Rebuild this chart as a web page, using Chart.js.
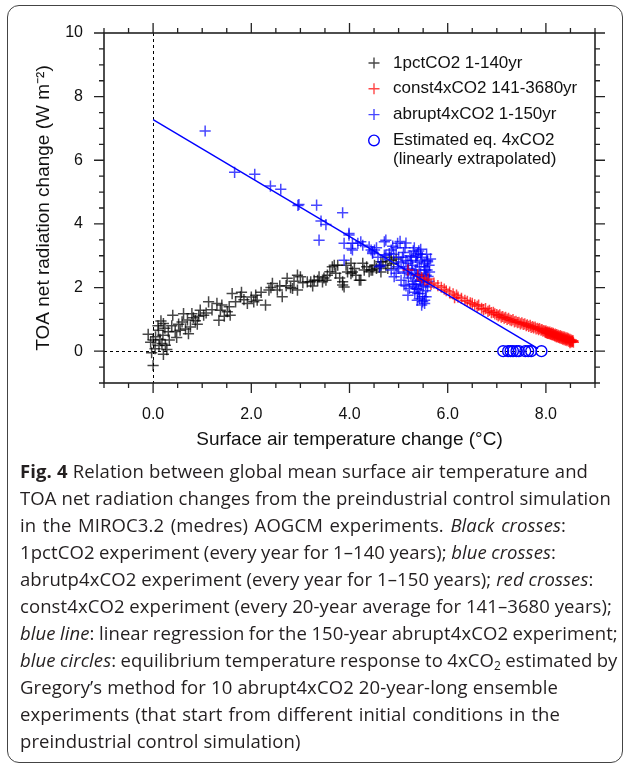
<!DOCTYPE html>
<html>
<head>
<meta charset="utf-8">
<script src="https://cdn.jsdelivr.net/npm/chart.js@4.4.1/dist/chart.umd.min.js"></script>
<style>
  html, body { margin:0; padding:0; background:#fff; }
  body { width:625px; height:765px; position:relative; overflow:hidden; }
  #frame { position:absolute; left:7px; top:5px; width:616px; height:758px; border:1.6px solid #444; border-radius:12px; box-sizing:border-box; }
  #chartBox { position:absolute; left:0; top:0; width:625px; height:460px; }
  #caption { position:absolute; left:20px; top:457px; font-family:'Open Sans', 'Noto Sans', sans-serif; font-size:18.5px; line-height:27px; color:#231f20; }
  #caption .ln { display:inline-block; white-space:nowrap; }
  #caption sub { font-size:12px; vertical-align:-3px; line-height:0; }
</style>
</head>
<body>
<div id="frame"></div>
<div id="chartBox"><canvas id="gregory" width="625" height="460"></canvas></div>
<div id="caption">
  <div><span class="ln"><b>Fig. 4</b> Relation between global mean surface air temperature and</span></div>
  <div><span class="ln">TOA net radiation changes from the preindustrial control simulation</span></div>
  <div><span class="ln">in the MIROC3.2 (medres) AOGCM experiments. <i>Black crosses</i>:</span></div>
  <div><span class="ln">1pctCO2 experiment (every year for 1–140 years); <i>blue crosses</i>:</span></div>
  <div><span class="ln">abrutp4xCO2 experiment (every year for 1–150 years); <i>red crosses</i>:</span></div>
  <div><span class="ln">const4xCO2 experiment (every 20-year average for 141–3680 years);</span></div>
  <div><span class="ln"><i>blue line</i>: linear regression for the 150-year abrupt4xCO2 experiment;</span></div>
  <div><span class="ln"><i>blue circles</i>: equilibrium temperature response to 4xCO<sub>2</sub> estimated by</span></div>
  <div><span class="ln">Gregory’s method for 10 abrupt4xCO2 20-year-long ensemble</span></div>
  <div><span class="ln">experiments (that start from different initial conditions in the</span></div>
  <div><span class="ln">preindustrial control simulation)</span></div>
</div>
<script>
// 1pctCO2, years 1-140 (black crosses)
const pctCO2 = [
  [0.00,-0.45],[-0.03,-0.05],[0.04,0.08],[-0.10,0.53],[0.00,0.35],[0.11,0.66],[0.14,0.37],[0.21,0.87],
  [0.25,0.19],[0.18,0.24],[0.21,-0.10],[0.31,0.61],[0.05,0.45],[0.12,0.18],[0.20,0.50],[0.28,0.05],
  [0.10,0.80],[0.16,0.95],[-0.05,0.28],[0.24,0.72],[0.33,0.35],[0.40,1.13],[0.48,0.43],[0.38,0.80],
  [0.45,0.62],[0.55,0.66],[0.59,0.92],[0.62,1.18],[0.52,0.85],[0.66,0.70],[0.70,0.98],[0.76,0.76],
  [0.79,1.18],[0.72,0.55],[0.86,0.96],[0.82,1.05],[0.90,0.85],[0.96,1.29],[1.03,1.13],[0.93,1.10],
  [1.13,1.55],[1.08,1.20],[1.20,1.30],[1.30,1.50],[1.37,1.29],[1.34,0.97],[1.40,1.45],[1.45,1.10],
  [1.51,1.24],[1.57,1.13],[1.61,1.81],[1.55,1.40],[1.68,1.55],[1.78,1.71],[1.85,1.62],[1.92,1.50],
  [1.80,1.85],[2.00,1.70],[2.09,1.76],[2.12,1.60],[2.05,1.55],[2.20,1.85],[2.29,1.45],[2.36,1.92],
  [2.43,2.13],[2.40,2.00],[2.53,1.92],[2.63,1.71],[2.58,2.05],[2.73,2.29],[2.71,2.06],[2.80,2.00],
  [2.84,1.97],[2.94,1.92],[2.94,2.39],[2.87,2.20],[3.00,2.34],[3.05,2.15],[3.14,2.18],[3.21,2.18],
  [3.28,2.23],[3.25,2.05],[3.35,2.23],[3.38,2.34],[3.45,2.18],[3.52,2.23],[3.48,2.30],[3.55,2.39],
  [3.60,2.50],[3.65,2.65],[3.69,2.70],[3.76,2.70],[3.72,2.45],[3.80,2.30],[3.86,2.18],[3.89,2.02],
  [3.86,2.08],[3.93,2.70],[3.96,2.49],[4.03,2.76],[4.03,2.44],[4.06,2.49],[4.13,2.39],[4.10,2.60],
  [4.20,2.23],[4.23,2.23],[4.27,2.76],[4.30,2.55],[4.35,2.65],[4.40,2.50],[4.44,2.55],[4.47,2.55],
  [4.51,2.70],[4.55,2.60],[4.61,2.65],[4.64,2.49],[4.64,2.81],[4.68,2.81],[4.74,2.70],[4.78,2.60],
  [4.85,2.86],[4.90,2.75],[4.95,2.90],[4.82,2.95]
];

// abrupt4xCO2, years 1-150 (blue crosses)
const abrupt4x = [
  [1.06,6.92],[1.66,5.62],[2.07,5.56],[2.39,5.19],[2.60,5.09],[2.97,4.61],[2.95,4.58],[3.33,4.59],
  [3.86,4.35],[3.42,4.09],[3.52,3.98],[3.38,3.49],[3.99,3.70],[3.89,3.39],[4.06,3.39],[4.23,3.44],
  [4.40,3.28],[4.51,3.18],[4.03,3.23],[4.17,3.39],[4.27,3.33],[4.44,3.18],[4.47,3.07],[3.99,3.65],
  [4.06,3.18],[4.47,3.12],[4.71,3.44],[4.74,3.49],[4.98,3.39],[4.74,3.02],[4.71,3.02],[4.85,3.18],
  [4.81,3.07],[3.89,2.86],[4.61,2.65],[4.64,2.70],[4.85,2.55],[4.98,2.65],[4.91,2.34],[5.05,2.23],
  [5.12,2.49],[5.19,2.76],[5.26,2.97],[5.36,3.02],[5.46,2.86],[5.53,2.65],[5.32,2.44],[5.43,2.23],
  [5.32,2.02],[5.22,1.97],[5.39,1.81],[5.49,1.71],[5.49,1.55],[5.46,2.08],[5.59,2.02],[5.56,2.39],
  [5.59,2.81],[5.19,1.76],[5.11,2.08],[5.36,1.97],[5.43,1.81],[5.53,1.60],[5.53,1.50],[5.56,1.71],
  [5.39,3.07],[5.59,2.86],[5.63,2.49],[5.00,2.95],[5.10,3.10],[5.15,2.85],[5.20,2.60],[5.25,2.40],
  [5.28,2.70],[5.30,2.20],[5.35,2.55],[5.38,2.80],[5.40,2.35],[5.42,2.65],[5.45,2.45],[5.48,2.95],
  [5.50,2.25],[5.52,2.75],[5.55,2.55],[5.58,2.15],[5.60,2.35],[5.62,2.70],[5.65,2.90],[5.20,2.30],
  [5.25,2.85],[5.30,3.15],[5.35,2.10],[5.40,1.95],[5.45,3.05],[5.50,2.05],[5.55,1.90],[5.15,2.05],
  [5.10,2.65],[5.05,2.80],[4.95,2.45],[5.00,2.60],[4.90,3.05],[5.42,1.65],[5.47,1.45],[5.38,1.60],
  [5.33,1.85],[5.28,2.10],[5.18,2.45],[5.23,3.00],[5.13,3.25],[5.08,2.95],[4.95,3.25],[5.58,2.55],
  [5.62,2.20],[5.27,2.55],[5.37,2.40],[5.45,2.20],[5.52,2.40],[5.57,3.05],[5.35,2.95],[5.41,3.15],
  [5.03,3.45],[4.88,3.30],[5.15,3.40],[5.32,3.25],[5.45,3.20],[4.58,2.95],[4.55,3.25]
];

// const4xCO2, 20-year means for years 141-3680 (red crosses)
const const4x = [
  [5.19,2.55],[5.39,2.39],[5.47,2.31],[5.53,2.23],[5.60,2.27],[5.66,2.10],[5.72,2.14],[5.80,2.06],
  [5.87,2.01],[5.93,1.95],[5.97,1.90],[6.04,1.86],[6.11,1.80],[6.14,1.68],[6.18,1.76],[6.21,1.70],
  [6.28,1.66],[6.35,1.60],[6.40,1.57],[6.46,1.52],[6.50,1.50],[6.55,1.46],[6.60,1.41],[6.63,1.45],
  [6.69,1.35],[6.73,1.31],[6.77,1.34],[6.82,1.25],[6.85,1.28],[6.89,1.21],[6.93,1.22],[6.96,1.17],
  [7.00,1.15],[7.03,1.11],[7.06,1.14],[7.09,1.07],[7.12,1.09],[7.15,1.04],[7.18,1.06],[7.21,1.00],
  [7.24,1.03],[7.27,0.98],[7.30,0.96],[7.33,0.99],[7.36,0.92],[7.39,0.94],[7.42,0.90],[7.45,0.91],
  [7.48,0.86],[7.51,0.89],[7.54,0.84],[7.57,0.86],[7.60,0.80],[7.62,0.83],[7.65,0.78],[7.68,0.81],
  [7.70,0.75],[7.73,0.77],[7.75,0.73],[7.78,0.76],[7.80,0.70],[7.83,0.72],[7.85,0.68],[7.87,0.71],
  [7.90,0.66],[7.92,0.68],[7.94,0.63],[7.96,0.65],[7.98,0.61],[8.00,0.64],[8.02,0.59],[8.04,0.61],
  [8.06,0.57],[8.08,0.60],[8.10,0.55],[8.12,0.58],[8.14,0.53],[8.15,0.56],[8.17,0.51],[8.19,0.54],
  [8.20,0.49],[8.22,0.52],[8.24,0.47],[8.25,0.50],[8.27,0.46],[8.29,0.49],[8.30,0.44],[8.32,0.47],
  [8.33,0.42],[8.35,0.45],[8.36,0.40],[8.38,0.44],[8.39,0.39],[8.41,0.42],[8.42,0.37],[8.44,0.41],
  [8.45,0.36],[8.46,0.39],[8.48,0.34],[8.49,0.37],[8.50,0.32],[8.52,0.35],[8.53,0.30],[8.55,0.33],
  [8.56,0.28],[8.47,0.31],[8.43,0.33],[8.40,0.35],[8.37,0.36],[8.34,0.38],[8.31,0.40],[8.28,0.42],
  [8.26,0.43],[8.23,0.45],[8.21,0.46],[8.18,0.48],[8.16,0.50],[8.13,0.51],[8.11,0.53],[8.09,0.54],
  [8.07,0.55],[8.05,0.57],[8.03,0.56],[8.01,0.58],[7.99,0.59],[8.51,0.29],[8.54,0.31],[8.49,0.27]
];

// Gregory-method equilibrium estimates (blue circles)
const eqTemps = [7.13, 7.23, 7.28, 7.33, 7.40, 7.45, 7.58, 7.64, 7.70, 7.91];
const eqFlux  = [0, 0, 0, 0, 0, 0, 0, 0, 0, 0];

// regression line for abrupt4xCO2
const fitX = [0, 7.84];
const fitY = [7.28, 0.08];

// axes
const xRange = [-1, 9];
const yRange = [-1, 10];
const xMajor = [0, 2, 4, 6, 8];
const yMajor = [0, 2, 4, 6, 8, 10];
const minorStep = 0.5;

const legendLabels = [
  ['1pctCO2 1-140yr'],
  ['const4xCO2 141-3680yr'],
  ['abrupt4xCO2 1-150yr'],
  ['Estimated eq. 4xCO2', '(linearly extrapolated)']
];

const FONT = "'Liberation Sans', Arial, Helvetica, sans-serif";
const INK = '#111';
const BLACK = 'rgba(0,0,0,0.72)';
const BLUE = 'rgba(0,0,255,0.72)';
const RED = 'rgba(255,0,0,0.72)';

function tickValues(range) {
  const out = [];
  for (let v = range[0]; v <= range[1] + 1e-9; v += minorStep) out.push(Math.round(v * 10) / 10);
  return out;
}
const toPts = arr => arr.map(p => ({ x: p[0], y: p[1] }));

const framePlugin = {
  id: 'frame',
  beforeDatasetsDraw(chart) {
    const { ctx, chartArea: a, scales: { x, y } } = chart;
    ctx.save();
    ctx.strokeStyle = '#000';
    ctx.lineWidth = 1;
    ctx.setLineDash([3, 3]);
    const x0 = Math.round(x.getPixelForValue(0)) + 0.5;
    const y0 = Math.round(y.getPixelForValue(0)) + 0.5;
    ctx.beginPath();
    ctx.moveTo(x0, a.top); ctx.lineTo(x0, a.bottom);
    ctx.moveTo(a.left, y0); ctx.lineTo(a.right, y0);
    ctx.stroke();
    ctx.restore();
  },
  afterDraw(chart) {
    const { ctx, chartArea: a, scales: { x, y } } = chart;
    ctx.save();
    ctx.strokeStyle = '#222';
    ctx.lineWidth = 1.6;
    ctx.strokeRect(a.left, a.top, a.right - a.left, a.bottom - a.top);
    ctx.lineWidth = 1.3;
    ctx.beginPath();
    tickValues(xRange).forEach(v => {
      const len = xMajor.includes(v) ? 10 : 5;
      const px = x.getPixelForValue(v);
      ctx.moveTo(px, a.bottom); ctx.lineTo(px, a.bottom + len);
      ctx.moveTo(px, a.top); ctx.lineTo(px, a.top - len);
    });
    tickValues(yRange).forEach(v => {
      const len = yMajor.includes(v) ? 10 : 5;
      const py = y.getPixelForValue(v);
      ctx.moveTo(a.left, py); ctx.lineTo(a.left - len, py);
      ctx.moveTo(a.right, py); ctx.lineTo(a.right + len, py);
    });
    ctx.stroke();

    // legend, top right inside the plot
    const styles = [
      { shape: 'cross', color: BLACK },
      { shape: 'cross', color: RED },
      { shape: 'cross', color: BLUE },
      { shape: 'circle', color: '#0000ff' }
    ];
    const mx = 374, tx = 393;
    let ty = 63;
    ctx.font = '17px ' + FONT;
    ctx.textBaseline = 'middle';
    ctx.textAlign = 'left';
    legendLabels.forEach((lines, i) => {
      const s = styles[i];
      ctx.strokeStyle = s.color;
      ctx.lineWidth = 1.4;
      ctx.beginPath();
      if (s.shape === 'cross') {
        ctx.moveTo(mx - 5.5, ty); ctx.lineTo(mx + 5.5, ty);
        ctx.moveTo(mx, ty - 5.5); ctx.lineTo(mx, ty + 5.5);
      } else {
        ctx.arc(mx, ty, 5.3, 0, Math.PI * 2);
      }
      ctx.stroke();
      ctx.fillStyle = INK;
      lines.forEach((t, j) => ctx.fillText(t, tx, ty + j * 18.5));
      ty += 25.8;
    });
    ctx.restore();
  }
};

const crossSet = (label, data, color, order) => ({
  label, data: toPts(data), order,
  pointStyle: 'cross', pointRadius: 5.6, pointBorderWidth: 1.5,
  borderColor: color, backgroundColor: color, showLine: false
});

new Chart(document.getElementById('gregory'), {
  type: 'scatter',
  data: {
    datasets: [
      {
        label: 'Estimated eq. 4xCO2', order: 0,
        data: eqTemps.map((t, i) => ({ x: t, y: eqFlux[i] })),
        pointStyle: 'circle', pointRadius: 5.4, pointBorderWidth: 1.4,
        borderColor: '#0000ff', backgroundColor: 'rgba(0,0,0,0)', showLine: false
      },
      {
        type: 'line', label: 'regression', order: 1,
        data: fitX.map((v, i) => ({ x: v, y: fitY[i] })),
        borderColor: '#0000ff', borderWidth: 1.4, pointRadius: 0, fill: false, tension: 0
      },
      crossSet('const4xCO2 141-3680yr', const4x, RED, 2),
      crossSet('abrupt4xCO2 1-150yr', abrupt4x, BLUE, 3),
      crossSet('1pctCO2 1-140yr', pctCO2, BLACK, 4)
    ]
  },
  options: {
    responsive: false,
    animation: false,
    devicePixelRatio: 1,
    layout: { padding: { top: 33, right: 30, left: 0, bottom: 0 } },
    plugins: { legend: { display: false }, tooltip: { enabled: false } },
    scales: {
      x: {
        type: 'linear', min: xRange[0], max: xRange[1],
        afterBuildTicks: s => { s.ticks = tickValues(xRange).map(v => ({ value: v })); },
        afterFit: s => { s.height = 77; },
        grid: { display: false, drawTicks: false },
        border: { display: false },
        ticks: {
          autoSkip: false, maxRotation: 0, padding: 22, color: INK,
          font: { size: 16, family: FONT },
          callback: v => xMajor.includes(v) ? v.toFixed(1) : ''
        },
        title: {
          display: true, text: 'Surface air temperature change (°C)', color: INK,
          font: { size: 19, family: FONT }, padding: { top: 0, bottom: 9 }
        }
      },
      y: {
        type: 'linear', min: yRange[0], max: yRange[1],
        afterBuildTicks: s => { s.ticks = tickValues(yRange).map(v => ({ value: v })); },
        afterFit: s => { s.width = 104; },
        grid: { display: false, drawTicks: false },
        border: { display: false },
        ticks: {
          autoSkip: false, padding: 21, color: INK,
          font: { size: 16, family: FONT },
          callback: v => yMajor.includes(v) ? String(v) : ''
        },
        title: {
          display: true, text: 'TOA net radiation change (W m⁻²)', color: INK,
          font: { size: 19, family: FONT }, padding: { top: 32, bottom: 0 }
        }
      }
    }
  },
  plugins: [framePlugin]
});

// caption: lines that are justified in the printed figure get stretched to their width
const captionEnds = [588, 611, 566, 556, 0, 612, 612, 612, 558, 560, 0];
(function fitCaption() {
  const spans = [...document.querySelectorAll('#caption .ln')];
  const ref = spans[1];
  const w = ref.getBoundingClientRect().width;
  const ls = (captionEnds[1] - 20 - w) / ref.textContent.length;
  document.getElementById('caption').style.letterSpacing = ls.toFixed(3) + 'px';
  spans.forEach((sp, i) => {
    if (!captionEnds[i]) return;
    const nat = sp.getBoundingClientRect().width;
    const gaps = (sp.textContent.match(/ /g) || []).length;
    const ws = Math.max(-0.5, (captionEnds[i] - 20 - nat) / gaps);
    sp.style.wordSpacing = ws.toFixed(3) + 'px';
  });
})();
</script>
</body>
</html>
